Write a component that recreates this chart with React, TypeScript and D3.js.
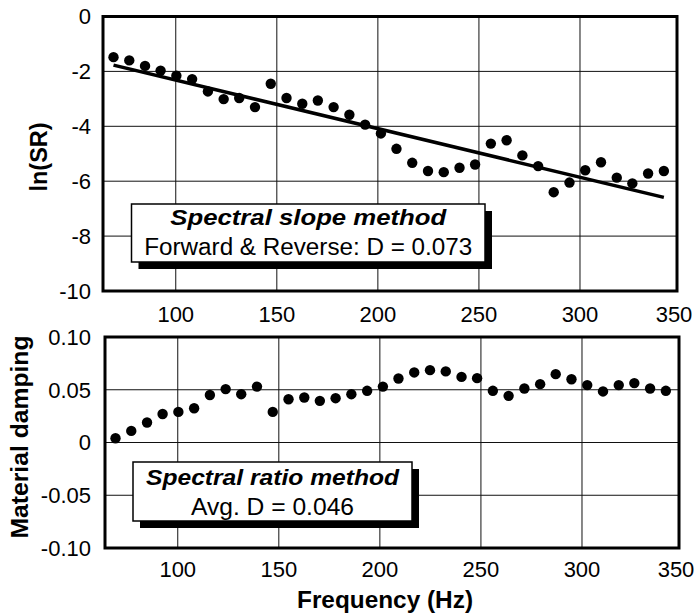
import React from "react";
import * as d3 from "d3";

// ---- Data ----
const FREQ: number[] = [
  69.2, 77.0, 84.8, 92.5, 100.3, 108.1, 115.9, 123.7, 131.4, 139.2, 147.0, 154.8,
  162.6, 170.3, 178.1, 185.9, 193.7, 201.5, 209.2, 217.0, 224.8, 232.6, 240.4, 248.1,
  255.9, 263.7, 271.5, 279.3, 287.0, 294.8, 302.6, 310.4, 318.2, 325.9, 333.7, 341.5,
];

const LN_SR: number[] = [
  -1.48, -1.6, -1.8, -1.97, -2.16, -2.28, -2.73, -3.01, -2.97, -3.3, -2.45, -2.97,
  -3.18, -3.06, -3.3, -3.58, -3.94, -4.26, -4.82, -5.33, -5.63, -5.67, -5.51, -5.39,
  -4.63, -4.51, -5.06, -5.45, -6.4, -6.05, -5.6, -5.31, -5.87, -6.08, -5.72, -5.63,
];

const DAMPING: number[] = [
  0.004, 0.011, 0.019, 0.027, 0.029, 0.0325, 0.045, 0.0506, 0.0458, 0.053, 0.029, 0.041,
  0.0427, 0.0395, 0.042, 0.0458, 0.049, 0.053, 0.0607, 0.0664, 0.0686, 0.0674, 0.0622, 0.061,
  0.049, 0.0442, 0.0512, 0.0553, 0.0648, 0.06, 0.0544, 0.0484, 0.0544, 0.0563, 0.0512, 0.049,
];

// fitted spectral-slope line (endpoints)
const FIT_FREQ: number[] = [69.2, 341.5];
const FIT_LN_SR: number[] = [-1.77, -6.59];

const X_TICKS: number[] = [100, 150, 200, 250, 300, 350];
const TOP_Y_TICKS: number[] = [0, -2, -4, -6, -8, -10];
const BOT_Y_TICKS: number[] = [0.1, 0.05, 0, -0.05, -0.1];
const BOT_Y_LABELS: string[] = ["0.10", "0.05", "0", "-0.05", "-0.10"];

const LEGEND_TOP: string[] = ["Spectral slope method", "Forward & Reverse: D = 0.073"];
const LEGEND_BOT: string[] = ["Spectral ratio method", "Avg. D = 0.046"];

const FONT = "'Liberation Sans', Arial, Helvetica, sans-serif";

export default function App() {
  const W = 700;
  const H = 614;
  const xDomain: [number, number] = [64, 348];

  const xTop = d3.scaleLinear().domain(xDomain).range([103, 677]);
  const xBot = d3.scaleLinear().domain(xDomain).range([105, 679]);
  const yTop = d3.scaleLinear().domain([-10, 0]).range([291, 16.5]);
  const yBot = d3.scaleLinear().domain([-0.1, 0.1]).range([548, 337]);

  const fitLine = d3
    .line<number>()
    .x((_, i) => xTop(FIT_FREQ[i]))
    .y((d) => yTop(d));

  const renderPanel = (
    x: d3.ScaleLinear<number, number>,
    y: d3.ScaleLinear<number, number>,
    yTicks: number[],
    yLabels: string[],
    values: number[],
    xLabelOffset: number,
    legend: string[],
    box: { x0: number; y0: number; x1: number; y1: number; base1: number; base2: number; w1: number; w2: number },
    fit: boolean
  ) => {
    const [x0, x1] = x.range();
    const [yb, yt] = y.range();
    const cx = (box.x0 + box.x1) / 2;
    return (
      <g>
        {/* vertical gridlines */}
        {X_TICKS.filter((t) => x(t) < x1 - 2).map((t) => (
          <line key={"vx" + t} x1={x(t)} x2={x(t)} y1={yt} y2={yb} stroke="#111" strokeWidth={1} />
        ))}
        {/* horizontal gridlines */}
        {yTicks.map((t) => (
          <line key={"hy" + t} x1={x0} x2={x1} y1={y(t)} y2={y(t)} stroke="#111" strokeWidth={1} />
        ))}
        {/* legend shadow & box */}
        <rect x={box.x0 + 7} y={box.y0 + 7} width={box.x1 - box.x0} height={box.y1 - box.y0} fill="#000" />
        <rect x={box.x0} y={box.y0} width={box.x1 - box.x0} height={box.y1 - box.y0} fill="#fff" stroke="#000" strokeWidth={1.5} />
        <text
          x={cx}
          y={box.base1}
          textAnchor="middle"
          fontFamily={FONT}
          fontWeight="bold"
          fontStyle="italic"
          fontSize={22}
          textLength={box.w1}
          lengthAdjust="spacingAndGlyphs"
        >
          {legend[0]}
        </text>
        <text
          x={cx}
          y={box.base2}
          textAnchor="middle"
          fontFamily={FONT}
          fontSize={23}
          textLength={box.w2}
          lengthAdjust="spacingAndGlyphs"
        >
          {legend[1]}
        </text>
        {/* fit line */}
        {fit && <path d={fitLine(FIT_LN_SR) || ""} fill="none" stroke="#000" strokeWidth={3.5} />}
        {/* points */}
        {values.map((v, i) => (
          <circle key={"p" + i} cx={x(FREQ[i])} cy={y(v)} r={5.2} fill="#000" />
        ))}
        {/* frame */}
        <rect x={x0} y={yt} width={x1 - x0} height={yb - yt} fill="none" stroke="#000" strokeWidth={3} />
        {/* y tick labels */}
        {yTicks.map((t, i) => (
          <text key={"yl" + t} x={91} y={y(t)} dy="0.36em" textAnchor="end" fontFamily={FONT} fontSize={22}>
            {yLabels[i]}
          </text>
        ))}
        {/* x tick labels */}
        {X_TICKS.map((t) => (
          <text
            key={"xl" + t}
            x={Math.min(x(t), x1 - 3)}
            y={yb + xLabelOffset}
            textAnchor="middle"
            fontFamily={FONT}
            fontSize={22}
          >
            {t}
          </text>
        ))}
      </g>
    );
  };

  return (
    <svg
      width={W}
      height={H}
      viewBox={`0 0 ${W} ${H}`}
      style={{ position: "absolute", left: 0, top: 0, background: "#fff" }}
    >
      <rect x={0} y={0} width={W} height={H} fill="#fff" />
      {renderPanel(
        xTop,
        yTop,
        TOP_Y_TICKS,
        TOP_Y_TICKS.map(String),
        LN_SR,
        31,
        LEGEND_TOP,
        { x0: 131.5, y0: 204, x1: 485, y1: 262, base1: 225, base2: 255, w1: 276, w2: 328 },
        true
      )}
      {renderPanel(
        xBot,
        yBot,
        BOT_Y_TICKS,
        BOT_Y_LABELS,
        DAMPING,
        29,
        LEGEND_BOT,
        { x0: 133, y0: 462, x1: 412, y1: 521, base1: 485, base2: 515, w1: 253, w2: 163 },
        false
      )}
      {/* axis titles */}
      <text
        transform="translate(47,157) rotate(-90)"
        textAnchor="middle"
        fontFamily={FONT}
        fontWeight="bold"
        fontSize={23}
        textLength={69}
        lengthAdjust="spacingAndGlyphs"
      >
        ln(SR)
      </text>
      <text
        transform="translate(28,437) rotate(-90)"
        textAnchor="middle"
        fontFamily={FONT}
        fontWeight="bold"
        fontSize={23}
        textLength={203}
        lengthAdjust="spacingAndGlyphs"
      >
        Material damping
      </text>
      <text
        x={385}
        y={608}
        textAnchor="middle"
        fontFamily={FONT}
        fontWeight="bold"
        fontSize={23}
        textLength={176}
        lengthAdjust="spacingAndGlyphs"
      >
        Frequency (Hz)
      </text>
    </svg>
  );
}
